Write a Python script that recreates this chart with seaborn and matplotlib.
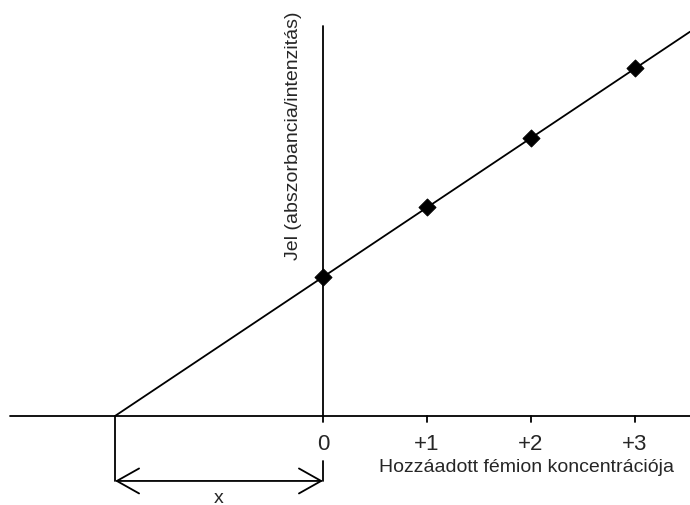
import numpy as np
import pandas as pd
import matplotlib
matplotlib.use("Agg")
import matplotlib.pyplot as plt
import seaborn as sns

# standard addition data (arbitrary units)
added = [0, 1, 2, 3]
signal = [2.0, 3.0, 4.0, 5.0]
tick_labels = ["0", "+1", "+2", "+3"]
xlabel = "Hozzáadott fémion koncentrációja"
ylabel = "Jel (abszorbancia/intenzitás)"
dist_label = "x"

sns.set_theme(style="white")
plt.rcParams["font.family"] = ["Liberation Sans", "DejaVu Sans"]

fig = plt.figure(figsize=(6.9, 5.06), dpi=100)
ax = fig.add_axes([0, 0, 1, 1])
xlim = (-3.106, 3.529)
ylim = (-1.281, 6.0)
ax.set_xlim(*xlim)
ax.set_ylim(*ylim)
ax.axis("off")

# regression line extended back to the x-intercept
slope, icept = np.polyfit(added, signal, 1)
x0 = -icept / slope
line_x = np.array([x0, xlim[1]])
df_line = pd.DataFrame({"c": line_x, "s": slope * line_x + icept})
sns.lineplot(data=df_line, x="c", y="s", color="black", lw=1.3, ax=ax)

df = pd.DataFrame({"c": added, "s": signal})
sns.scatterplot(data=df, x="c", y="s", marker="D", s=75, color="black",
                edgecolor="black", zorder=5, ax=ax)

# axes drawn as plain lines
ax.plot([-3.01, xlim[1]], [0, 0], color="black", lw=1.3)
ax.plot([0, 0], [0, 5.61], color="black", lw=1.3)
for c, lab in zip(added, tick_labels):
    ax.plot([c, c], [0, -0.08], color="black", lw=1.3)
    ax.text(c, -0.40, lab, ha="center", va="center", fontsize=16)

ax.text(1.96, -0.73, xlabel, ha="center", va="center", fontsize=14)
ax.text(-0.28, 4.05, ylabel, ha="center", va="center", rotation=90,
        fontsize=14)

# distance arrow between the x-intercept and zero
y_arr = -0.935
ax.plot([x0, x0], [0, y_arr], color="black", lw=1.3)
ax.plot([0, 0], [-0.65, y_arr], color="black", lw=1.3)
ax.annotate("", xy=(x0, y_arr), xytext=(0, y_arr),
            arrowprops=dict(arrowstyle="<->,head_length=0.8,head_width=0.45",
                            color="black", lw=1.3, shrinkA=0, shrinkB=0,
                            mutation_scale=20))
ax.text(x0 / 2, -1.17, dist_label, ha="center", va="center", fontsize=14)

fig.savefig("out.png", dpi=100)
